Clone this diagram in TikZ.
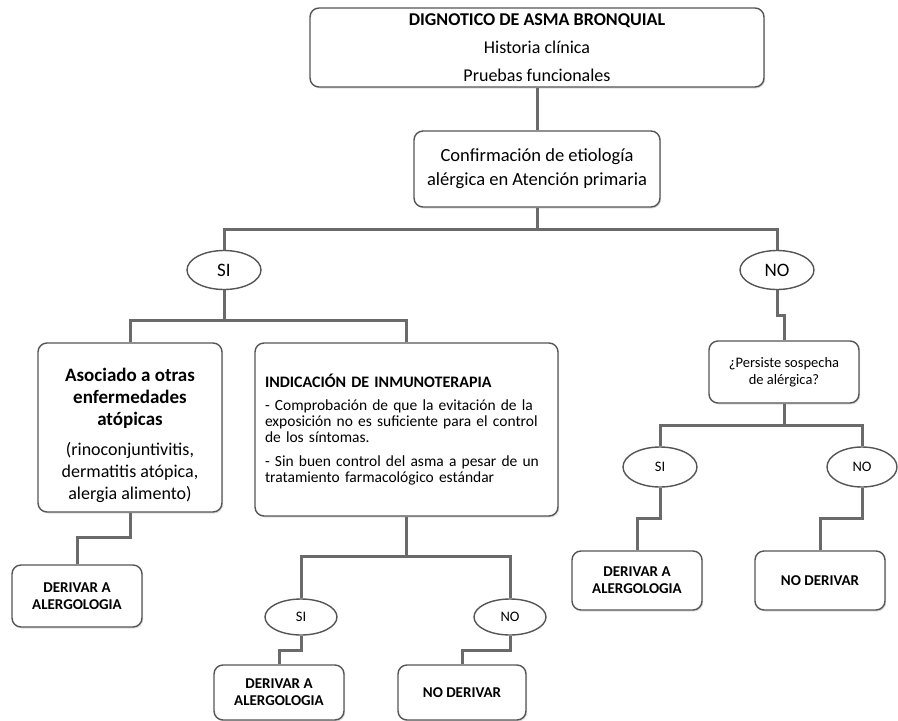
\documentclass[tikz,border=0pt]{standalone}
\usepackage{fontspec}
\setmainfont{Carlito}
\usetikzlibrary{shapes.geometric,shadows}
\definecolor{edge}{HTML}{555555}
\definecolor{conn}{HTML}{6A6A6A}
\newcommand{\asob}[1]{{\fontsize{19}{22}\selectfont\bfseries #1}}
\begin{document}
\begin{tikzpicture}[x=1pt,y=-1pt,
  box/.style={draw=edge, line width=1.4pt, rounded corners=9pt, fill=white, inner sep=0pt,
    drop shadow={shadow xshift=1.2pt, shadow yshift=-1.5pt, opacity=0.25}},
  oval/.style={ellipse, draw=edge, line width=1.4pt, fill=white, inner sep=0pt},
  link/.style={draw=conn, line width=3pt},
  bigf/.style={font=\fontsize{19}{23}\selectfont},
  smallf/.style={font=\fontsize{14.5}{16}\selectfont},
  bodyf/.style={font=\fontsize{15.5}{16}\selectfont},
  resf/.style={font=\fontsize{15}{17}\selectfont\bfseries, align=center},
  txt/.style={inner sep=0pt}
]
\useasboundingbox (0,0) rectangle (898,721);

% nodes
\node[box, minimum width=454, minimum height=79, align=center, font=\fontsize{18}{28}\selectfont] (top) at (537,47.5)
  {\textbf{DIGNOTICO DE ASMA BRONQUIAL}\\Historia clínica\\Pruebas funcionales};
\node[box, minimum width=246, minimum height=76, align=center, font=\fontsize{18.5}{24}\selectfont] (conf) at (537,169)
  {Confirmación de etiología\\alérgica en Atención primaria};

\node[oval, minimum width=74, minimum height=39, bigf] (si1) at (224,270) {SI};
\node[oval, minimum width=74, minimum height=39, bigf] (no1) at (777,270) {NO};

\node[box, minimum width=184, minimum height=169] (aso) at (130,427.5) {};
\node[txt, align=center, font=\fontsize{18}{22}\selectfont] (asotext) at (130,435)
  {\asob{Asociado a otras}\\\asob{enfermedades}\\\asob{atópicas}\\[8pt](rinoconjuntivitis,\\dermatitis atópica,\\alergia alimento)};

\node[box, minimum width=303, minimum height=173, align=left, text width=283, bodyf] (ind) at (406.5,429.5)
  {{\fontsize{16}{16}\selectfont\textbf{INDICACIÓN DE INMUNOTERAPIA}}\\[7pt]
   \makebox[283pt][s]{- Comprobación de que la evitación de la}\\
   \makebox[283pt][s]{exposición no es suficiente para el control}\\
   de los síntomas.\\[8pt]
   \makebox[283pt][s]{- Sin buen control del asma a pesar de un}\\
   tratamiento farmacológico estándar};

\node[box, minimum width=150, minimum height=62, align=center, font=\fontsize{14.5}{17}\selectfont] (per) at (784,372)
  {¿Persiste sospecha\\de alérgica?};

\node[oval, minimum width=74, minimum height=40, smallf] (si2) at (660,467) {SI};
\node[oval, minimum width=70, minimum height=40, smallf] (no2) at (862,467) {NO};

\node[box, minimum width=130, minimum height=59, resf] (da3) at (637,580.5) {DERIVAR A\\ALERGOLOGIA};
\node[box, minimum width=130, minimum height=59, resf] (nd3) at (820,580.5) {NO DERIVAR};

\node[box, minimum width=130, minimum height=62, resf] (da1) at (77,596) {DERIVAR A\\ALERGOLOGIA};

\node[oval, minimum width=72, minimum height=36, smallf] (si3) at (301,617) {SI};
\node[oval, minimum width=72, minimum height=36, smallf] (no3) at (510,617) {NO};

\node[box, minimum width=130, minimum height=55, resf] (da2) at (279,692.5) {DERIVAR A\\ALERGOLOGIA};
\node[box, minimum width=128, minimum height=55, resf] (nd2) at (462,692.5) {NO DERIVAR};

% connectors
\draw[link] (top.south) -- (conf.north);
\draw[link] (conf.south) -- (conf.south |- 0,229);
\draw[link] (si1.north) -- (si1.north |- 0,229) -- (no1.north |- 0,229) -- (no1.north);

\draw[link] (si1.south) -- (si1.south |- 0,320);
\draw[link] (aso.north) -- (aso.north |- 0,320) -- (ind.north |- 0,320) -- (ind.north);

\draw[link] (aso.south) -- (aso.south |- 0,537) -| (da1.north);

\draw[link] (ind.south) -- (ind.south |- 0,556);
\draw[link] (si3.north) -- (si3.north |- 0,556) -- (no3.north |- 0,556) -- (no3.north);
\draw[link] (si3.south) -- (si3.south |- 0,650) -| (da2.north);
\draw[link] (no3.south) -- (no3.south |- 0,650) -| (nd2.north);

\draw[link] (no1.south) -- (no1.south |- 0,315) -| (per.north);
\draw[link] (per.south) -- (per.south |- 0,425);
\draw[link] (si2.north) -- (si2.north |- 0,425) -- (no2.north |- 0,425) -- (no2.north);
\draw[link] (si2.south) -- (si2.south |- 0,518) -| (da3.north);
\draw[link] (no2.south) -- (no2.south |- 0,518) -| (nd3.north);
\end{tikzpicture}
\end{document}
